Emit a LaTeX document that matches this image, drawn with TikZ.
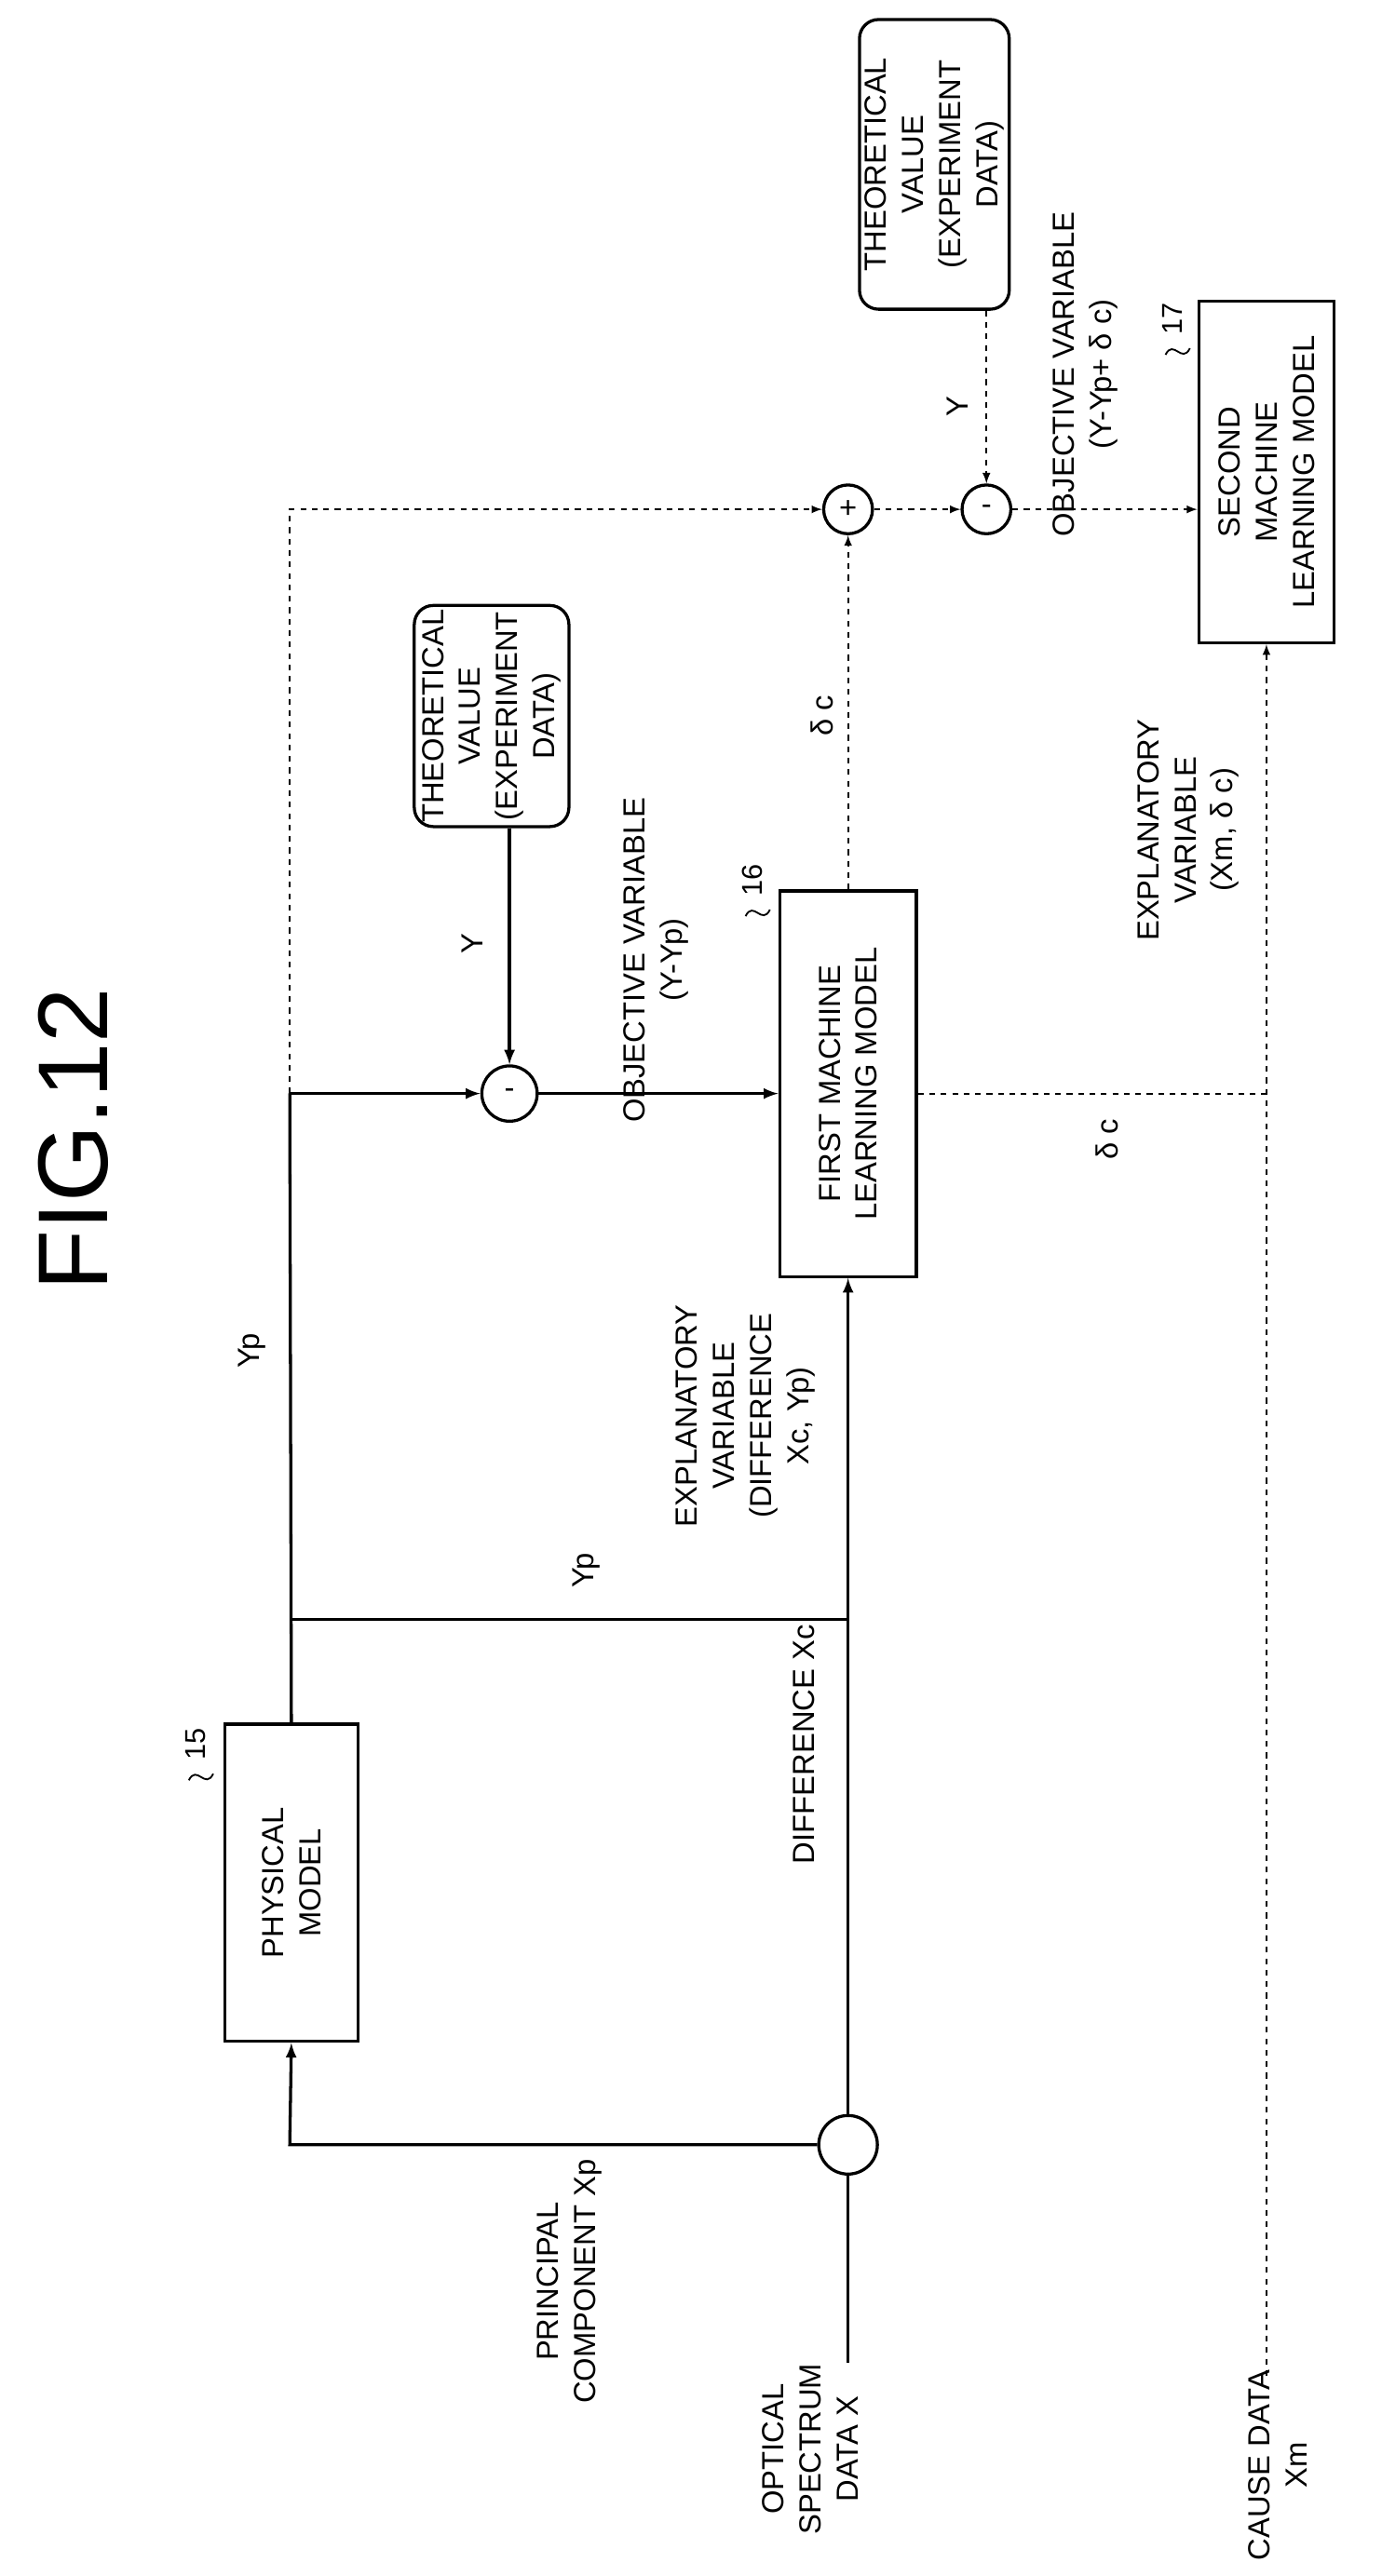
\documentclass[tikz,border=0pt]{standalone}
\usepackage{fontspec}
\setmainfont{Liberation Sans}
\usetikzlibrary{arrows}

\begin{document}
\begin{tikzpicture}[x=0.03cm,y=-0.03cm,>=latex,
    font=\fontsize{16}{19.5}\selectfont,
    line width=1.6pt,
    blk/.style={draw,rectangle,rotate=90,align=center,inner sep=2pt},
    val/.style={draw,rectangle,rounded corners=10pt,rotate=90,align=center,inner sep=2pt},
    op/.style={draw,circle,inner sep=0pt},
    lbl/.style={rotate=90,align=center},
    dsh/.style={dashed,line width=0.9pt,>={latex[scale=1.5]}}]
    \useasboundingbox (0,0) rectangle (849,1583);

    \node[lbl,font=\fontsize{52}{60}\selectfont] (title) at (45,700) {FIG.12};

    \node[blk,minimum width=5.85cm,minimum height=2.46cm] (pm) at (179,1157) {PHYSICAL\\MODEL};
    \node[blk,minimum width=7.11cm,minimum height=2.52cm] (fm) at (521,666) {FIRST MACHINE\\LEARNING MODEL};
    \node[blk,minimum width=6.3cm,minimum height=2.49cm] (sm) at (778,290) {SECOND\\MACHINE\\LEARNING MODEL};
    \node[val,minimum width=3.9cm,minimum height=2.85cm] (tv1) at (302,440) {THEORETICAL\\VALUE\\(EXPERIMENT\\DATA)};
    \node[val,minimum width=5.34cm,minimum height=2.76cm] (tv2) at (574,101) {THEORETICAL\\VALUE\\(EXPERIMENT\\DATA)};

    \node[op,minimum size=1.08cm] (jn) at (521,1318) {};
    \node[op,minimum size=1.02cm] (mn1) at (313,672) {-};
    \node[op,minimum size=0.9cm] (pl) at (521,313) {+};
    \node[op,minimum size=0.9cm] (mn2) at (606,313) {-};

    \coordinate (in) at (521,1452);
    \coordinate (c1) at (178,1318);
    \coordinate (c2) at (178,995);
    \coordinate (c3) at (521,995);
    \coordinate (c4) at (178,672);
    \coordinate (c5) at (178,313);
    \coordinate (c6) at (778,672);
    \coordinate (c7) at (778,1460);

    % solid paths
    \draw (in) -- (jn);
    \draw[->] (jn) -- (c1) -- (pm.west);
    \draw[->] (jn) -- (fm.west);
    \draw (pm.east) -- (c4);
    \draw (c2) -- (c3);
    \draw[->] (c4) -- (mn1);
    \draw[->] (mn1) -- (mn1 -| fm.north);
    \draw[->] (tv1.west -| mn1) -- (mn1);

    % dashed paths
    \draw[dsh,->] (c4) -- (c5) -- (pl);
    \draw[dsh,->] (fm.east) -- (pl);
    \draw[dsh,->] (pl) -- (mn2);
    \draw[dsh,->] (tv2.west -| mn2) -- (mn2);
    \draw[dsh,->] (mn2) -- (mn2 -| sm.north);
    \draw[dsh] (c6 -| fm.south) -- (c6);
    \draw[dsh,->] (c7) -- (sm.west);

    % labels
    \node[lbl] (lxp) at (350,1402) {PRINCIPAL\\COMPONENT Xp};
    \node[lbl] (lx) at (498,1505) {OPTICAL\\SPECTRUM\\DATA X};
    \node[lbl] (lxc) at (494,1072) {DIFFERENCE Xc};
    \node[lbl] (lyp1) at (155,830) {Yp};
    \node[lbl] (lyp2) at (360,965) {Yp};
    \node[lbl] (lev1) at (458,870) {EXPLANATORY\\VARIABLE\\(DIFFERENCE\\Xc, Yp)};
    \node[lbl] (ly1) at (290,580) {Y};
    \node[lbl] (lov1) at (403,590) {OBJECTIVE VARIABLE\\(Y-Yp)};
    \node[lbl] (ldc1) at (505,440) {δ c};
    \node[lbl] (ldc2) at (680,700) {δ c};
    \node[lbl] (lev2) at (730,510) {EXPLANATORY\\VARIABLE\\(Xm, δ c)};
    \node[lbl] (ly2) at (588,250) {Y};
    \node[lbl] (lov2) at (667,230) {OBJECTIVE VARIABLE\\(Y-Yp+ δ c)};
    \node[lbl] (lxm) at (785,1515) {CAUSE DATA\\Xm};

    % reference numerals
    \node[lbl,font=\fontsize{15}{18}\selectfont] (r15) at (120,1072) {15};
    \node[lbl,font=\fontsize{15}{18}\selectfont] (r16) at (462,541) {16};
    \node[lbl,font=\fontsize{15}{18}\selectfont] (r17) at (720,196) {17};
    \draw[line width=0.9pt] (116,1094) .. controls (121,1084) and (126,1100) .. (131,1090);
    \draw[line width=0.9pt] (458,563) .. controls (463,553) and (468,569) .. (473,559);
    \draw[line width=0.9pt] (716,218) .. controls (721,208) and (726,224) .. (731,214);
\end{tikzpicture}
\end{document}
